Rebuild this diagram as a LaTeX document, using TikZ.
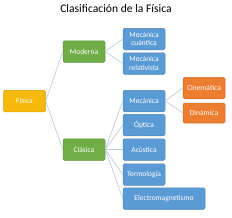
\documentclass[tikz,border=0pt]{standalone}
\usepackage{fontspec}
\setmainfont{Carlito}
\definecolor{cyel}{HTML}{F7BA0B}
\definecolor{cgrn}{HTML}{70AD47}
\definecolor{cblu}{HTML}{5B9BD5}
\definecolor{corg}{HTML}{ED7D31}
\definecolor{clin}{HTML}{B7C6DC}
\begin{document}
\begin{tikzpicture}[x=1pt,y=-1pt,
  box/.style={rectangle,rounded corners=1.5pt,minimum width=42pt,minimum height=21.5pt,
    inner sep=1pt,text=white,font=\fontsize{7.5}{8.5}\selectfont,align=center,line width=0.5pt},
  yel/.style={box,fill=cyel,draw=cyel!85!black},
  grn/.style={box,fill=cgrn,draw=cgrn!85!black},
  blu/.style={box,fill=cblu,draw=cblu!85!black},
  org/.style={box,fill=corg,draw=corg!85!black},
  conn/.style={draw=clin,line width=0.6pt}]
\useasboundingbox (0,0) rectangle (232,217);
\node[font=\fontsize{11.6}{13}\selectfont] (title) at (116,8.5) {Clasificación de la Física};
\node[yel] (fis) at (24.5,101) {Física};
\node[grn] (mod) at (84,51.5) {Moderna};
\node[grn] (cla) at (84,149.5) {Clásica};
\node[blu] (mq) at (144,39) {Mecánica\\cuántica};
\node[blu] (mr) at (144,63.5) {Mecánica\\relativista};
\node[blu] (mec) at (144,101) {Mecánica};
\node[blu] (opt) at (144,125) {Óptica};
\node[blu] (acu) at (144,149.5) {Acústica};
\node[blu] (ter) at (144,174.5) {Termología};
\node[blu,minimum width=82pt] (ele) at (164,198.5) {Electromagnetismo};
\node[org] (cin) at (204,88) {Cinemática};
\node[org,minimum height=20pt] (din) at (204,113) {Dinámica};
\draw[conn] (fis.east) -- (mod.west);
\draw[conn] (fis.east) -- (cla.west);
\draw[conn] (mod.east) -- (mq.west);
\draw[conn] (mod.east) -- (mr.west);
\draw[conn] (cla.east) -- (mec.west);
\draw[conn] (cla.east) -- (opt.west);
\draw[conn] (cla.east) -- (acu.west);
\draw[conn] (cla.east) -- (ter.west);
\draw[conn] (cla.east) -- (ele.west);
\draw[conn] (mec.east) -- (cin.west);
\draw[conn] (mec.east) -- (din.west);
\end{tikzpicture}
\end{document}
